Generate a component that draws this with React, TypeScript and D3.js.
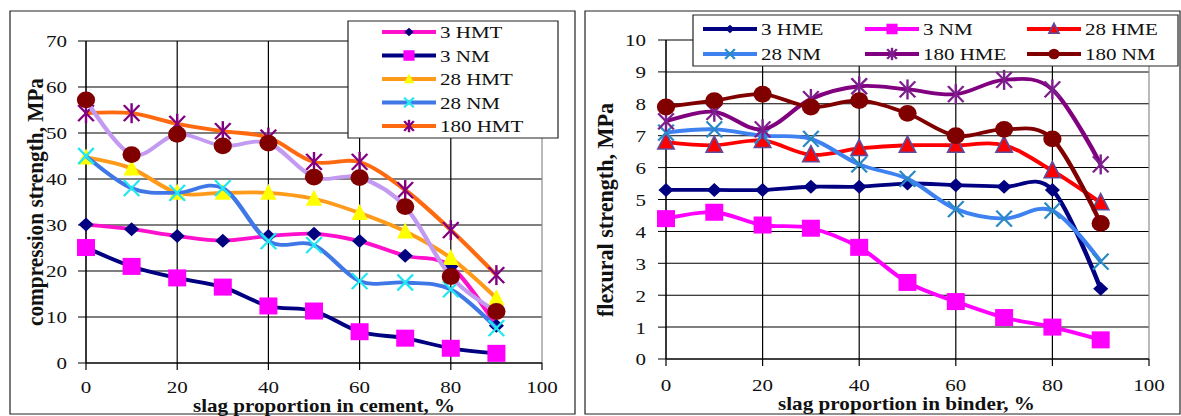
import React from "react";
import * as d3 from "d3";

// slag proportion, %
const slag = [0, 10, 20, 30, 40, 50, 60, 70, 80, 90];
const xTicks = [0, 20, 40, 60, 80, 100];

// compression strength, MPa
const compTicks = [0, 10, 20, 30, 40, 50, 60, 70];
const c3HMT = [30.1, 29.1, 27.6, 26.6, 27.6, 28.1, 26.5, 23.3, 21, 8.1];
const c3NM = [25.1, 21, 18.5, 16.5, 12.4, 11.3, 6.8, 5.4, 3.2, 2.1];
const c28HMT = [44.7, 42.3, 37, 37, 37, 35.7, 32.6, 28.6, 22.8, 14.1];
const c28NM = [45, 38, 37, 38, 26.5, 25.6, 17.8, 17.5, 16, 7.6];
const c180HMT = [54.3, 54.3, 52, 50.4, 49, 43.7, 43.7, 37.6, 28.9, 19.1];
const c180NM = [57.2, 45.3, 49.7, 47.2, 47.8, 40.4, 40.3, 34, 18.8, 11.2];

// flexural strength, MPa
const flexTicks = [0, 1, 2, 3, 4, 5, 6, 7, 8, 9, 10];
const f3HME = [5.3, 5.3, 5.3, 5.4, 5.4, 5.5, 5.45, 5.4, 5.3, 2.2];
const f3NM = [4.4, 4.6, 4.2, 4.1, 3.5, 2.4, 1.8, 1.3, 1.0, 0.6];
const f28HME = [6.8, 6.7, 6.85, 6.4, 6.6, 6.7, 6.7, 6.7, 5.9, 4.9];
const f28NM = [7.1, 7.2, 7.0, 6.9, 6.1, 5.65, 4.7, 4.4, 4.65, 3.05];
const f180HME = [7.45, 7.75, 7.2, 8.15, 8.55, 8.45, 8.3, 8.75, 8.45, 6.1];
const f180NM = [7.9, 8.1, 8.3, 7.9, 8.1, 7.7, 7.0, 7.2, 6.9, 4.25];

// the whole picture is stretched horizontally
const SX = 1.2;
const ux = (px: number) => px / SX;
const FONT = "'Liberation Serif', 'Times New Roman', serif";

type Marker = "diamond" | "square" | "triangle" | "x" | "star" | "circle";
interface Series {
  name: string;
  values: number[];
  line: string;
  fill: string;
  edge?: string;
  marker: Marker;
}

function Mark({ kind, x, y, fill, edge, s = 1 }: { kind: Marker; x: number; y: number; fill: string; edge?: string; s?: number }) {
  switch (kind) {
    case "diamond":
      return <path d={`M${x},${y - 7 * s}L${x + 6.3 * s},${y}L${x},${y + 7 * s}L${x - 6.3 * s},${y}Z`} fill={fill} />;
    case "square":
      return <rect x={x - 7.5 * s} y={y - 8.5 * s} width={15 * s} height={17 * s} fill={fill} />;
    case "triangle":
      return (
        <path
          d={`M${x},${y - 9 * s}L${x + 6.8 * s},${y + 7 * s}L${x - 6.8 * s},${y + 7 * s}Z`}
          fill={fill}
          stroke={edge || "none"}
          strokeWidth={1.5}
        />
      );
    case "x":
      return (
        <g stroke={fill} strokeWidth={2}>
          <line x1={x - 6.5 * s} y1={y - 8 * s} x2={x + 6.5 * s} y2={y + 8 * s} />
          <line x1={x - 6.5 * s} y1={y + 8 * s} x2={x + 6.5 * s} y2={y - 8 * s} />
        </g>
      );
    case "star":
      return (
        <g stroke={fill} strokeWidth={2}>
          <line x1={x - 6.5 * s} y1={y - 8 * s} x2={x + 6.5 * s} y2={y + 8 * s} />
          <line x1={x - 6.5 * s} y1={y + 8 * s} x2={x + 6.5 * s} y2={y - 8 * s} />
          <line x1={x} y1={y - 10 * s} x2={x} y2={y + 10 * s} />
        </g>
      );
    case "circle":
      return <ellipse cx={x} cy={y} rx={7.6 * s} ry={8.4 * s} fill={fill} />;
  }
}

interface ChartProps {
  frame: [number, number, number, number];
  px: [number, number];
  py: [number, number];
  yMax: number;
  yTicks: number[];
  series: Series[];
  legendBox: [number, number, number, number];
  legendPos: [number, number][];
  legendCount: number;
  xTitle: string;
  xTitleX: number;
  xTitleY: number;
  xTitleLen: number;
  xLabelY: number;
  yTitle: string;
  yTitleX: number;
  yTitleY: number;
  yTitleLen: number;
  yLabelX: number;
}

function Chart(p: ChartProps) {
  const x = d3.scaleLinear().domain([0, 100]).range([ux(p.px[0]), ux(p.px[1])]);
  const y = d3.scaleLinear().domain([0, p.yMax]).range([p.py[1], p.py[0]]);
  const line = d3
    .line<number>()
    .x((_, i) => x(slag[i]))
    .y((d) => y(d))
    .curve(d3.curveCardinal.tension(0));
  const [fx0, fy0, fx1, fy1] = p.frame;
  const [lx0, ly0, lx1, ly1] = p.legendBox;

  return (
    <g>
      <rect x={ux(fx0)} y={fy0} width={ux(fx1 - fx0)} height={fy1 - fy0} fill="#fff" stroke="#222" strokeWidth={1} />
      {/* grid */}
      {p.yTicks.slice(1).map((t) => (
        <line key={"h" + t} x1={x(0)} x2={x(100)} y1={y(t)} y2={y(t)} stroke="#000" strokeWidth={1} />
      ))}
      {xTicks.slice(1).map((t) => (
        <line key={"v" + t} x1={x(t)} x2={x(t)} y1={y(0)} y2={y(p.yMax)} stroke={t === 100 ? "#8c8c8c" : "#000"} strokeWidth={1} />
      ))}
      {/* axes */}
      <line x1={x(0)} x2={x(0)} y1={y(0)} y2={y(p.yMax)} stroke="#000" strokeWidth={1.3} />
      <line x1={x(0)} x2={x(100)} y1={y(0)} y2={y(0)} stroke="#000" strokeWidth={1.5} />
      {p.yTicks.map((t) => (
        <g key={"yt" + t}>
          <line x1={x(0) - ux(8)} x2={x(0)} y1={y(t)} y2={y(t)} stroke="#000" />
          <text x={ux(p.yLabelX)} y={y(t) + 6.5} textAnchor="end" fontSize={17.5} fontFamily={FONT} fill="#111">
            {t}
          </text>
        </g>
      ))}
      {xTicks.map((t) => (
        <g key={"xt" + t}>
          <line x1={x(t)} x2={x(t)} y1={y(0)} y2={y(0) + 7} stroke="#000" />
          <text x={x(t)} y={p.xLabelY} textAnchor="middle" fontSize={17.5} fontFamily={FONT} fill="#111">
            {t}
          </text>
        </g>
      ))}
      {/* series */}
      {p.series.map((s) => (
        <g key={s.name}>
          <path d={line(s.values) || ""} fill="none" stroke={s.line} strokeWidth={3.8} strokeLinejoin="round" />
          {s.values.map((v, i) => (
            <Mark key={i} kind={s.marker} x={x(slag[i])} y={y(v)} fill={s.fill} edge={s.edge} />
          ))}
        </g>
      ))}
      {/* legend */}
      <rect x={ux(lx0)} y={ly0} width={ux(lx1 - lx0)} height={ly1 - ly0} fill="#fff" stroke="#222" strokeWidth={1} />
      {p.series.slice(0, p.legendCount).map((s, i) => {
        const [ex, ey] = p.legendPos[i];
        return (
          <g key={"lg" + s.name}>
            <line x1={ux(ex)} x2={ux(ex + 54)} y1={ey} y2={ey} stroke={s.line} strokeWidth={3.8} />
            <Mark kind={s.marker} x={ux(ex + 27)} y={ey} fill={s.fill} edge={s.edge} s={0.62} />
            <text x={ux(ex + 58)} y={ey + 6.5} fontSize={17.5} fontFamily={FONT} fill="#111">
              {s.name}
            </text>
          </g>
        );
      })}
      {/* titles: x title starts at xTitleX, y title starts (bottom) at yTitleY */}
      <text
        x={ux(p.xTitleX)}
        y={p.xTitleY}
        textAnchor="start"
        fontSize={18}
        fontWeight="bold"
        fontFamily={FONT}
        fill="#111"
        textLength={ux(p.xTitleLen)}
        lengthAdjust="spacingAndGlyphs"
      >
        {p.xTitle}
      </text>
      <text
        transform={`translate(${ux(p.yTitleX)},${p.yTitleY}) rotate(-90)`}
        textAnchor="start"
        fontSize={20}
        fontWeight="bold"
        fontFamily={FONT}
        fill="#111"
        textLength={p.yTitleLen}
        lengthAdjust="spacingAndGlyphs"
      >
        {p.yTitle}
      </text>
    </g>
  );
}

export default function App() {
  const compSeries: Series[] = [
    { name: "3 HMT", values: c3HMT, line: "#ff10cc", fill: "#000080", marker: "diamond" },
    { name: "3 NM", values: c3NM, line: "#000080", fill: "#ff00ff", marker: "square" },
    { name: "28 HMT", values: c28HMT, line: "#ff9a1a", fill: "#ffff00", marker: "triangle" },
    { name: "28 NM", values: c28NM, line: "#3f78e6", fill: "#22e6f2", marker: "x" },
    { name: "180 HMT", values: c180HMT, line: "#ff6a10", fill: "#800080", marker: "star" },
    { name: "180 NM", values: c180NM, line: "#c39af2", fill: "#800000", marker: "circle" },
  ];
  const flexSeries: Series[] = [
    { name: "3 HME", values: f3HME, line: "#000080", fill: "#000080", marker: "diamond" },
    { name: "3 NM", values: f3NM, line: "#ff00ff", fill: "#ff00ff", marker: "square" },
    { name: "28 HME", values: f28HME, line: "#ff0000", fill: "#ff0000", edge: "#5f4a9c", marker: "triangle" },
    { name: "28 NM", values: f28NM, line: "#3d82f0", fill: "#2a8ac6", marker: "x" },
    { name: "180 HME", values: f180HME, line: "#800080", fill: "#7d1f8c", marker: "star" },
    { name: "180 NM", values: f180NM, line: "#800000", fill: "#800000", marker: "circle" },
  ];

  return (
    <svg width={1181} height={416} style={{ position: "absolute", left: 0, top: 0, background: "#fff" }}>
      <g transform={`scale(${SX},1)`}>
        <Chart
          frame={[10, 11, 575, 414]}
          px={[86, 542]}
          py={[41, 363]}
          yMax={70}
          yTicks={compTicks}
          series={compSeries}
          legendBox={[348, 21, 558, 138]}
          legendPos={[0, 1, 2, 3, 4].map((i) => [382, 32 + i * 23.5] as [number, number])}
          legendCount={5}
          xTitle="slag proportion in cement, %"
          xTitleX={193}
          xTitleY={412}
          xTitleLen={262}
          xLabelY={393}
          yTitle="compression strength, MPa"
          yTitleX={43}
          yTitleY={326}
          yTitleLen={248}
          yLabelX={67}
        />
        <Chart
          frame={[585, 11, 1180, 414]}
          px={[666, 1149]}
          py={[40, 359]}
          yMax={10}
          yTicks={flexTicks}
          series={flexSeries}
          legendBox={[693, 15, 1178, 66]}
          legendPos={[
            [703, 29],
            [865, 29],
            [1027, 29],
            [703, 54],
            [865, 54],
            [1027, 54],
          ]}
          legendCount={6}
          xTitle="slag proportion in binder, %"
          xTitleX={778}
          xTitleY={410}
          xTitleLen={257}
          xLabelY={391}
          yTitle="flexural strength, MPa"
          yTitleX={613}
          yTitleY={317}
          yTitleLen={214}
          yLabelX={646}
        />
      </g>
    </svg>
  );
}
